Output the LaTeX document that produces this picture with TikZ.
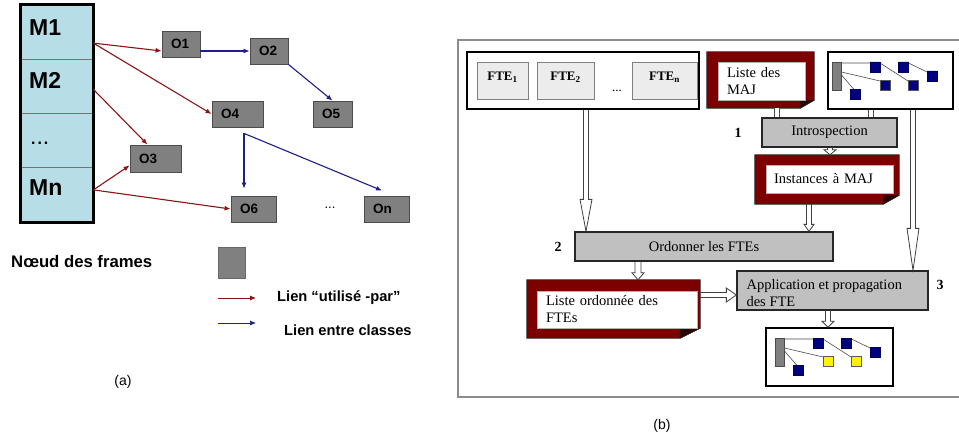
\documentclass[tikz,border=0pt]{standalone}
\usepackage{fontspec}
\setmainfont{Liberation Serif}
\setsansfont{Liberation Sans}
\usetikzlibrary{arrows.meta,calc}
\definecolor{cyanfill}{RGB}{183,222,230}
\definecolor{ogray}{RGB}{128,128,128}
\definecolor{redarr}{RGB}{140,20,20}
\definecolor{bluearr}{RGB}{30,30,140}
\definecolor{docred}{RGB}{125,0,0}
\definecolor{foldred}{RGB}{45,0,0}
\definecolor{procgray}{RGB}{192,192,192}
\definecolor{ftegray}{RGB}{236,236,236}
\definecolor{navysq}{RGB}{0,0,128}
\definecolor{framegray}{RGB}{140,140,140}
\newcommand{\hollowdown}[5]{\draw[hollow] ($(#1)+(-#3,0)$) -- ($(#2)+(-#3,-#5)$) -- ($(#2)+(-#4,-#5)$) -- (#2) -- ($(#2)+(#4,-#5)$) -- ($(#2)+(#3,-#5)$) -- ($(#1)+(#3,0)$);}
\newcommand{\hollowright}[5]{\draw[hollow] ($(#1)+(0,-#3)$) -- ($(#2)+(-#5,-#3)$) -- ($(#2)+(-#5,-#4)$) -- (#2) -- ($(#2)+(-#5,#4)$) -- ($(#2)+(-#5,#3)$) -- ($(#1)+(0,#3)$);}
\newcommand{\docshape}[3]{%
 \filldraw[fill=docred, draw=black!85, line width=0.7pt] (#1.north west) -- (#1.north east) -- ($(#1.south east)+(0,-#3)$) -- ($(#1.south east)+(-#2,0)$) -- (#1.south west) -- cycle;
 \filldraw[fill=foldred, draw=black!85, line width=0.5pt] ($(#1.south east)+(0,-#3)$) -- ($(#1.south east)+(-#2,0)$) -- ($(#1.south east)+(-#2,-#3)$) -- cycle;}
\newcommand{\serifsz}{\fontsize{14.5}{17}\selectfont}
\begin{document}
\begin{tikzpicture}[x=1pt,y=-1pt,
 mcell/.style={draw=black!55, line width=0.8pt, fill=cyanfill, minimum width=72pt, minimum height=54.25pt, inner sep=0pt},
 mlabel/.style={font=\sffamily\bfseries\fontsize{23}{25}\selectfont, inner sep=0pt, anchor=west},
 obox/.style={draw=black!70, line width=0.8pt, fill=ogray, font=\sffamily\bfseries\fontsize{13.5}{15}\selectfont, inner xsep=9pt, inner ysep=0pt, minimum height=26pt, align=left},
 redlink/.style={draw=redarr, line width=1.1pt, -{Latex[length=6pt,width=5pt]}},
 bluelink/.style={draw=bluearr, line width=1.1pt, -{Latex[length=6pt,width=5pt]}},
 legbig/.style={font=\sffamily\bfseries\fontsize{16.7}{18}\selectfont, inner sep=0pt, anchor=west},
 legsm/.style={font=\sffamily\bfseries\fontsize{14.7}{16}\selectfont, inner sep=0pt, anchor=west},
 caption/.style={font=\sffamily\fontsize{14}{16}\selectfont, inner sep=0pt},
 ftebox/.style={draw=black!50, line width=0.8pt, fill=ftegray, minimum height=37pt, inner sep=0pt},
 ftelabel/.style={font=\bfseries\fontsize{13}{15}\selectfont, inner sep=0pt},
 docinner/.style={fill=white, draw=black!30, line width=0.5pt, inner xsep=9pt, inner ysep=0pt, align=left, font=\serifsz},
 docouter/.style={draw=none, inner sep=0pt},
 procbox/.style={draw=black!85, line width=1.3pt, fill=procgray, inner sep=0pt, font=\serifsz},
 numlabel/.style={font=\bfseries\fontsize{14}{16}\selectfont, inner sep=0pt},
 treebox/.style={draw=black, line width=1.5pt, fill=white, inner sep=0pt},
 hollow/.style={draw=black!75, line width=0.8pt},
 dblline/.style={draw=black!70, double=white, double distance=3.5pt, line width=0.8pt},
 pics/treeicon/.style={code={
   \draw[gray!60!black, line width=0.6pt] (9.5,1) -- (38,1) (9.5,10) -- (48,19) (9.5,13) -- (22,27.5) (48,1) -- (76,19) (76.5,1) -- (95,10);
   \filldraw[fill=ogray, draw=gray!60!black, line width=0.5pt] (0,0) rectangle (9.5,28);
   \filldraw[fill=navysq, draw=navysq!70!black, line width=0.4pt] (38,0) rectangle +(10,10) (66.5,0) rectangle +(10,10) (95,9) rectangle +(10,10) (18.5,27.5) rectangle +(10,10);
   \filldraw[fill=#1, draw=gray!70!black, line width=0.4pt] (48,18.5) rectangle +(10,10) (76,18.5) rectangle +(10,10);
 }}
]
\useasboundingbox (0,0) rectangle (959,436);
\fill[white] (0,0) rectangle (959,436);

% ---------- panel (a) ----------
\node[mcell] (m1) at (57,32.125) {};
\node[mcell] (m2) at (57,86.375) {};
\node[mcell] (m3) at (57,140.625) {};
\node[mcell] (mn) at (57,194.875) {};
\draw[line width=2.5pt] (m1.north west) rectangle (mn.south east);
\node[mlabel] (m1t) at (29,28) {M1};
\node[mlabel] (m2t) at (29,80) {M2};
\node[mlabel, font=\sffamily\fontsize{23}{25}\selectfont] (m3t) at (30,143) {...};
\node[mlabel] (mnt) at (29,188) {Mn};

\node[obox, text width=20pt] (o1) at (181,44) {O1};
\node[obox, text width=20pt] (o2) at (269,51) {O2};
\node[obox, text width=33pt] (o4) at (237.5,114) {O4};
\node[obox, text width=21pt] (o5) at (332.5,114) {O5};
\node[obox, text width=33pt, minimum height=27pt] (o3) at (155.5,158.5) {O3};
\node[obox, text width=27pt] (o6) at (253.5,209) {O6};
\node[obox, text width=27pt] (on) at (386.5,209) {On};
\node[font=\sffamily\fontsize{13}{15}\selectfont, inner sep=0pt] (dots) at (330,208) {...};

\coordinate (s1) at ($(m1.east)+(0,11)$);
\coordinate (s2) at ($(m2.east)+(0,3)$);
\coordinate (sn) at ($(mn.east)+(0,-5)$);
\draw[redlink] (s1) -- ($(o1.west)+(0,7)$);
\draw[redlink] (s1) -- (o4.west);
\draw[redlink] (s2) -- ($(o3.north)+(-8,0)$);
\draw[redlink] (sn) -- ($(o3.west)+(0,7)$);
\draw[redlink] (sn) -- (o6.west);

\coordinate (br) at ($(o4.south)+(6.5,6)$);
\draw[bluelink] ($(o1.east)+(0,7)$) -- (o2.west);
\draw[bluelink] (o2.south east) -- (o5.north);
\draw[bluelink] (br) -- ($(o6.north)+(-9.5,-7)$);
\draw[bluelink] (br) -- ($(on.north)+(-4.5,-5)$);

% legend
\node[legbig] (nfr) at (11,262) {Nœud des frames};
\node[draw=black!60, fill=ogray, line width=0.8pt, minimum width=27pt, minimum height=31pt, inner sep=0pt] (legbox) at (231.5,262.5) {};
\coordinate (lr1) at (218,298); \coordinate (lr2) at (256,298);
\draw[redlink, line width=0.9pt] (lr1) -- (lr2);
\node[legsm] (lup) at (277,298) {Lien “utilisé -par”};
\coordinate (lb1) at (218,323); \coordinate (lb2) at (256,323);
\draw[bluelink, line width=0.7pt] (lb1) -- (lb2);
\node[legsm] (lec) at (284,330) {Lien entre classes};
\node[caption] (capa) at (123,382) {(a)};

% ---------- panel (b) ----------
\draw[framegray, line width=1.5pt] (962,40) -- (458,40) -- (458,397) -- (962,397);

\node[draw=black, line width=1.8pt, minimum width=232pt, minimum height=57pt, inner sep=0pt] (fte) at (583,80.5) {};
\node[ftebox, minimum width=51pt] (fte1) at (502.5,80.5) {};
\node[ftebox, minimum width=57pt] (fte2) at (565.5,80.5) {};
\node[ftebox, minimum width=65pt] (ften) at (664.5,80.5) {};
\node[ftelabel] (fte1t) at ($(fte1)+(0,-3)$) {FTE\textsubscript{1}};
\node[ftelabel] (fte2t) at ($(fte2)+(0,-3)$) {FTE\textsubscript{2}};
\node[ftelabel] (ftent) at ($(ften)+(0,-3)$) {FTE\textsubscript{n}};
\node[font=\fontsize{13}{15}\selectfont, inner sep=0pt] (ftedots) at (617,91) {...};

% Liste des MAJ
\node[docouter, minimum width=107pt, minimum height=56pt] (liste) at (760.5,80) {};
\docshape{liste}{14}{8}
\node[docinner, text width=69pt, minimum height=38pt] (listei) at (761.5,81) {Liste des\\MAJ};

% tree box top
\node[treebox, minimum width=125pt, minimum height=57pt] (treea) at (890.5,80.5) {};
\pic at (832,62) {treeicon=navysq};

% Introspection
\node[procbox, minimum width=135pt, minimum height=29pt] (intro) at (829.5,132.5) {Introspection};
\node[numlabel] (n1) at (738,133) {1};

% Instances
\node[docouter, minimum width=144pt, minimum height=49pt] (inst) at (827,179.5) {};
\docshape{inst}{16}{9}
\node[docinner, inner xsep=8pt, text width=111pt, minimum height=28pt] (insti) at (829.5,179) {Instances à MAJ};

% Ordonner
\node[procbox, minimum width=258pt, minimum height=29pt] (ord) at (704,246.5) {Ordonner les FTEs};
\node[numlabel] (n2) at (558,247) {2};

% Liste ordonnee
\node[docouter, minimum width=173pt, minimum height=58pt] (lord) at (613.5,309) {};
\docshape{lord}{20}{10}
\node[docinner, text width=142pt, minimum height=37pt] (lordi) at (617,309.5) {Liste ordonnée des\\FTEs};

% Application
\node[procbox, minimum width=191pt, minimum height=39pt] (app) at (832.5,290.5) {};
\node[font=\serifsz, align=left, inner sep=0pt, anchor=west] (appt) at ($(app.west)+(10,3)$) {Application et propagation\\des FTE};
\node[numlabel] (n3) at (940,285) {3};

% result tree box
\node[treebox, minimum width=127pt, minimum height=58pt] (treeb) at (829.5,357) {};
\pic at (775,338) {treeicon=yellow};

\node[caption] (capb) at (662,426) {(b)};

% hollow connectors
\coordinate (cx1) at (586,0);
\coordinate (cx2) at (809,0);
\coordinate (cx3) at (913,0);
\coordinate (cx4) at (830,0);
\coordinate (cx5) at (638,0);
\coordinate (cx7) at (828,0);
\coordinate (cx8) at (777,0);
\coordinate (cx9) at (871,0);
\coordinate (cy6) at (0,295);
\coordinate (h1s) at (cx1 |- fte.south); \coordinate (h1e) at (cx1 |- ord.north);
\coordinate (h2s) at (cx2 |- inst.south); \coordinate (h2e) at (cx2 |- ord.north);
\coordinate (h3s) at (cx3 |- treea.south); \coordinate (h3e) at (cx3 |- app.north);
\coordinate (h4s) at (cx4 |- intro.south); \coordinate (h4e) at (cx4 |- inst.north);
\coordinate (h5s) at (cx5 |- ord.south); \coordinate (h5e) at (cx5 |- lord.north);
\coordinate (h6s) at (lord.east |- cy6); \coordinate (h6e) at (app.west |- cy6);
\coordinate (h7s) at (cx7 |- app.south); \coordinate (h7e) at (cx7 |- treeb.north);
\coordinate (h8s) at (cx8 |- liste.south); \coordinate (h8e) at (cx8 |- intro.north);
\coordinate (h9s) at (cx9 |- treea.south); \coordinate (h9e) at (cx9 |- intro.north);
\hollowdown{h1s}{h1e}{2.5}{6}{32}
\hollowdown{h2s}{h2e}{2.5}{5}{7}
\hollowdown{h3s}{h3e}{2.5}{6}{42}
\hollowdown{h4s}{h4e}{2.5}{6}{5}
\hollowdown{h5s}{h5e}{3}{6}{7}
\hollowright{h6s}{h6e}{2.5}{7}{10}
\hollowdown{h7s}{h7e}{2.5}{6}{6}
\draw[dblline] (h8s) -- (h8e);
\draw[dblline] (h9s) -- (h9e);
\end{tikzpicture}
\end{document}
